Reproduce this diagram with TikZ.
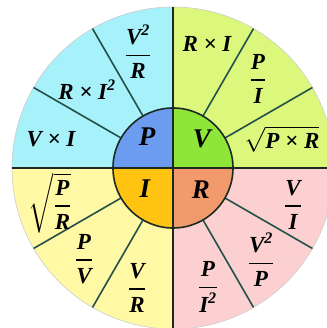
\documentclass[tikz,border=0pt]{standalone}
\usepackage{amsmath}
\usepackage{fontspec}
\setmainfont{Liberation Serif}
\usetikzlibrary{positioning}

\definecolor{cyanbg}{HTML}{A6F1FA}
\definecolor{limebg}{HTML}{DCF87C}
\definecolor{pinkbg}{HTML}{FCD0D0}
\definecolor{yellowbg}{HTML}{FFF8A4}
\definecolor{pcol}{HTML}{6B9CF0}
\definecolor{vcol}{HTML}{8EE63A}
\definecolor{rcol}{HTML}{F39A6C}
\definecolor{icol}{HTML}{FFC312}
\definecolor{linecol}{HTML}{24504A}
\definecolor{axiscol}{HTML}{1C2A22}

\newcommand{\fr}[2]{\genfrac{}{}{1.5pt}{0}{\text{#1}}{\text{#2}}}

\begin{document}
\begin{tikzpicture}[
    x=1pt, y=1pt,
    divider/.style={draw=linecol, line width=1.6pt},
    axis/.style={draw=axiscol, line width=2.4pt},
    hub/.style={draw=axiscol, line width=1.6pt},
    formula/.style={font=\fontsize{23}{27}\selectfont\bfseries\itshape, inner sep=0pt},
    quantity/.style={font=\fontsize{27}{31}\selectfont\bfseries\itshape, inner sep=0pt}
]
    \useasboundingbox (-173,-160) rectangle (153,168);

    % outer ring
    \fill[cyanbg] (0,0) -- (180:161) arc[start angle=180, end angle=90, radius=161] -- cycle;
    \fill[limebg] (0,0) -- (90:161) arc[start angle=90, end angle=0, radius=161] -- cycle;
    \fill[pinkbg] (0,0) -- (0:161) arc[start angle=0, end angle=-90, radius=161] -- cycle;
    \fill[yellowbg] (0,0) -- (-90:161) arc[start angle=-90, end angle=-180, radius=161] -- cycle;
    \draw[black!20, line width=0.6pt] (0,0) circle[radius=161];
    \foreach \a in {30,60,120,150,210,240,300,330}
        \draw[divider] (\a:60) -- (\a:161);

    % hub
    \fill[pcol] (0,0) -- (180:60) arc[start angle=180, end angle=90, radius=60] -- cycle;
    \fill[vcol] (0,0) -- (90:60) arc[start angle=90, end angle=0, radius=60] -- cycle;
    \fill[rcol] (0,0) -- (0:60) arc[start angle=0, end angle=-90, radius=60] -- cycle;
    \fill[icol] (0,0) -- (-90:60) arc[start angle=-90, end angle=-180, radius=60] -- cycle;
    \draw[hub] (0,0) circle[radius=60];
    \draw[axis] (-161,0) -- (161,0);
    \draw[axis] (0,161) -- (0,-161);

    \node [quantity] (p) at (-26,31) {P};
    \node [quantity] (v) at (29,29) {V};
    \node [quantity] (r) at (28,-22) {R};
    \node [quantity] (i) at (-28,-21) {I};

    % power
    \node [formula] (vi) at (-122,29) {V × I};
    \node [formula] (ri2) at (-86,78) {R × I$^{\text{2}}$};
    \node [formula] (v2r) at (-35,116) {$\fr{V$^{\text{2}}$}{R}$};
    % voltage
    \node [formula] (ri) at (34,124) {R × I};
    \node [formula] (pi) at (85,89) {$\fr{P}{I}$};
    \node [formula] (sqpr) at (109,29) {$\sqrt{\text{P × R}}$};
    % resistance
    \node [formula] (vdi) at (120,-37) {$\fr{V}{I}$};
    \node [formula] (v2p) at (88,-92) {$\fr{V$^{\text{2}}$}{P}$};
    \node [formula] (pi2) at (35,-119) {$\fr{P}{I$^{\text{2}}$}$};
    % current
    \node [formula] (sqpdr) at (-123,-35) {$\sqrt{\fr{P}{R}}$};
    \node [formula] (pv) at (-89,-91) {$\fr{P}{V}$};
    \node [formula] (vr) at (-36,-120) {$\fr{V}{R}$};
\end{tikzpicture}
\end{document}
